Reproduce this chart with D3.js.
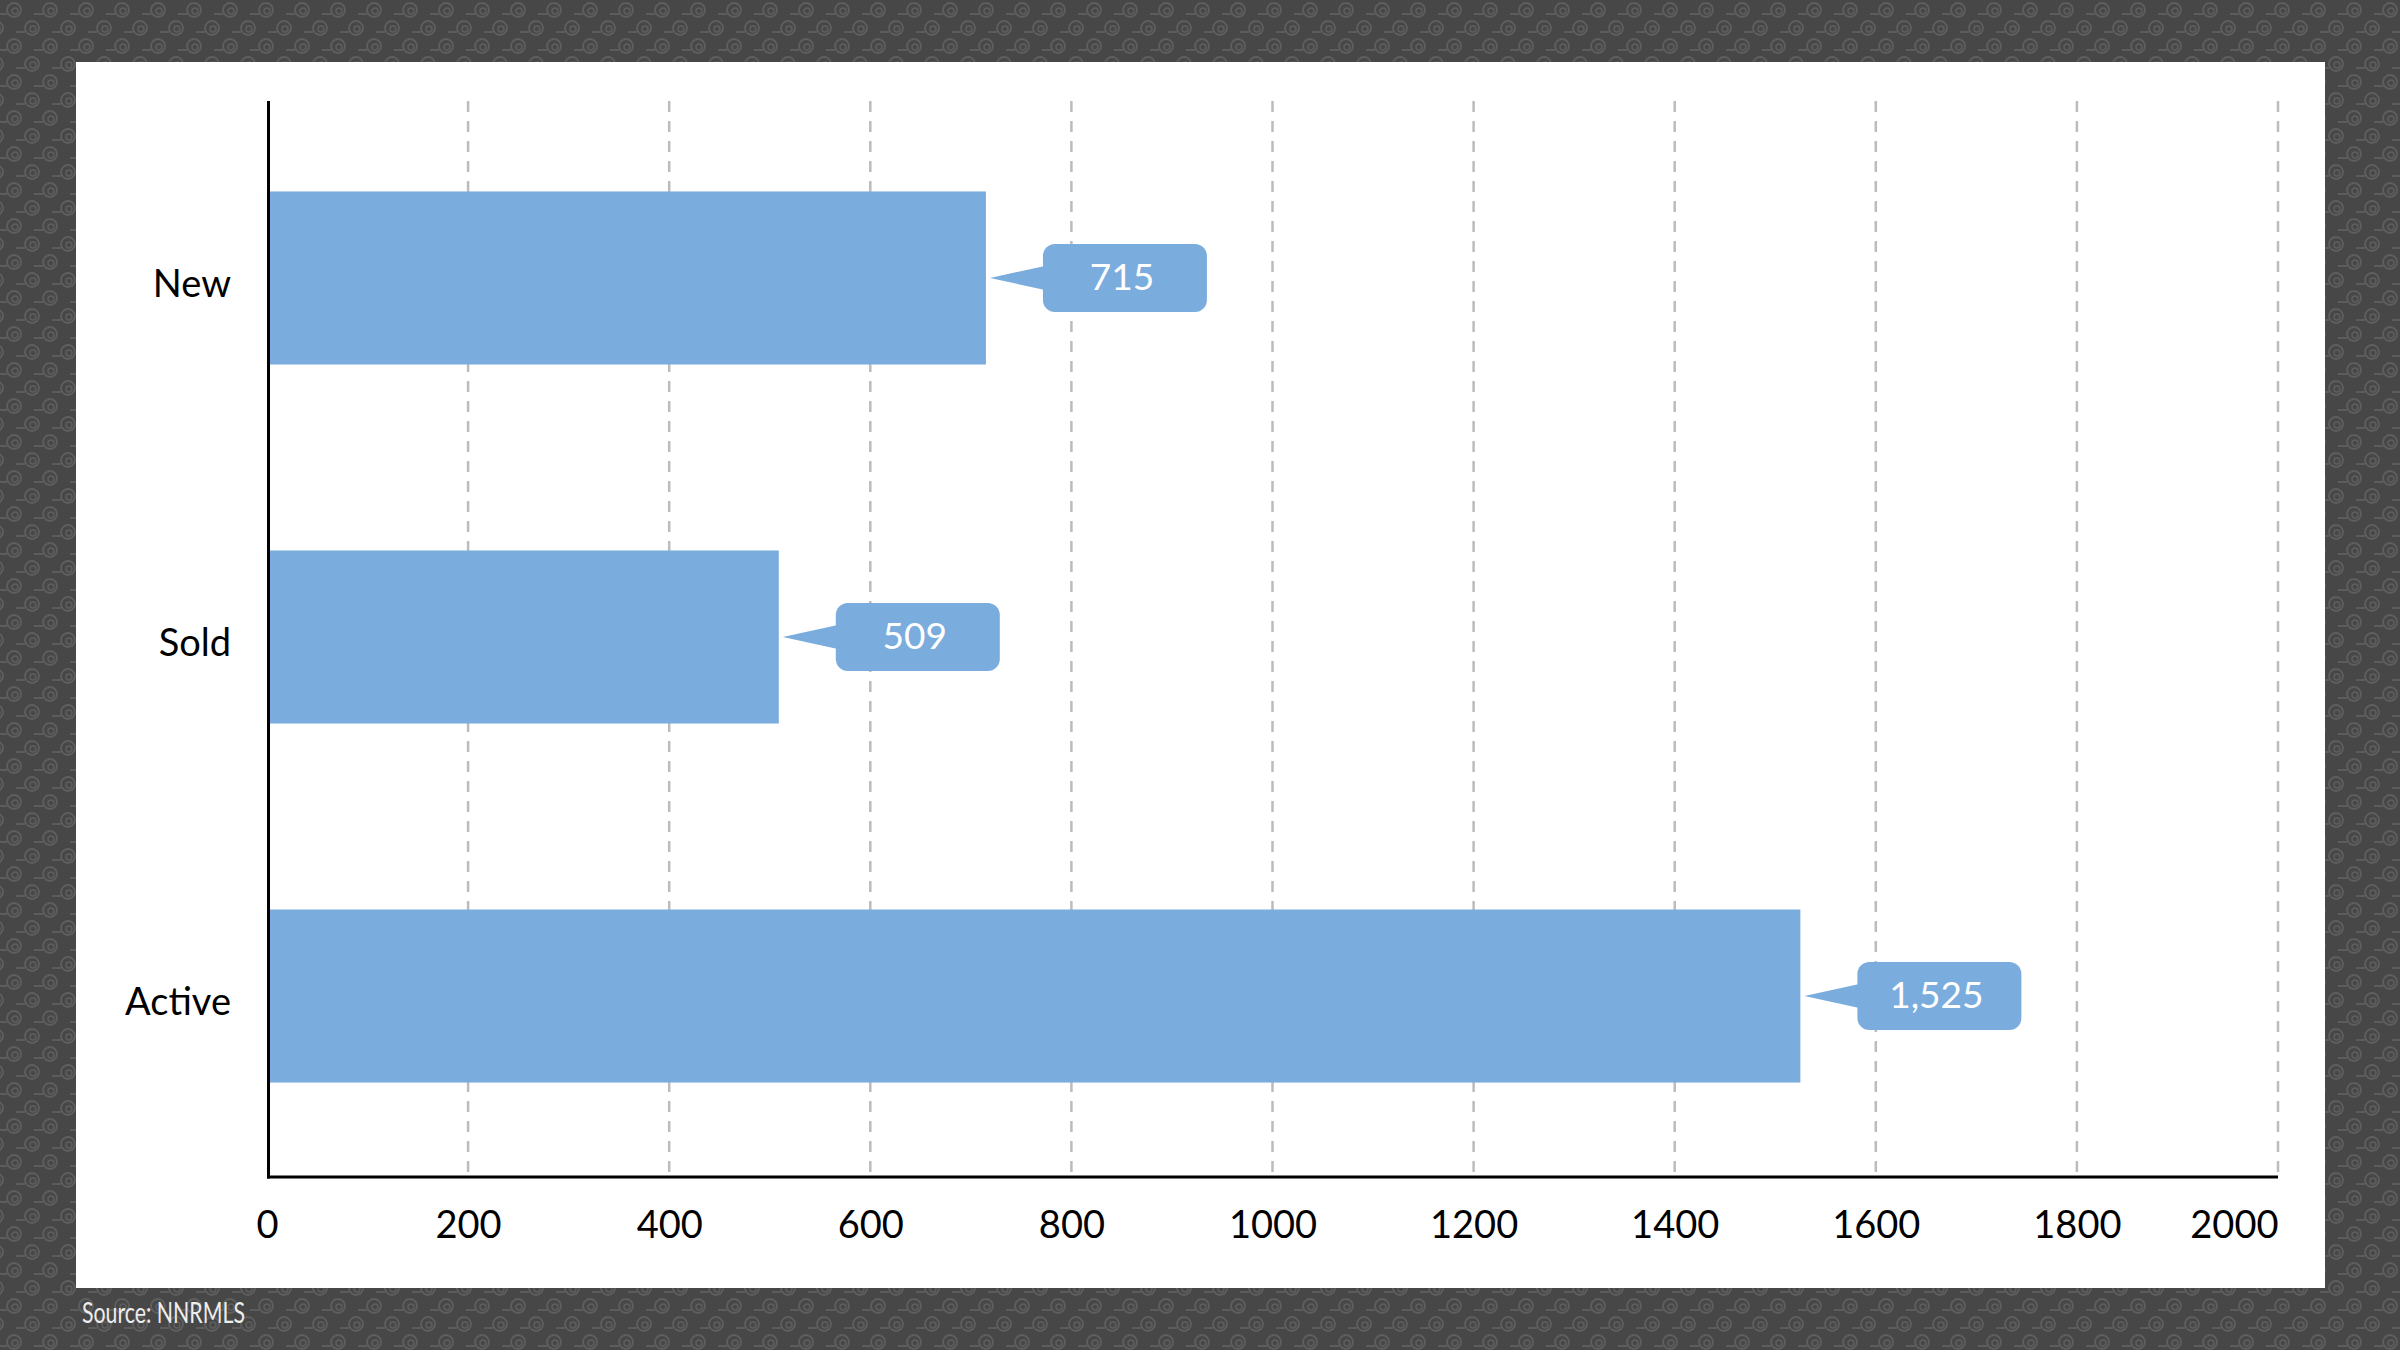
<!DOCTYPE html>
<html>
<head>
<meta charset="utf-8">
<script src="https://cdn.jsdelivr.net/npm/d3@7"></script>
<style>
  html, body { margin: 0; padding: 0; background: #474747; }
  svg { display: block; }
  text { font-family: Lato, 'Open Sans', sans-serif; }
</style>
</head>
<body>
<svg id="chart" width="2400" height="1350"></svg>
<script>
// data
const categories = ['New', 'Sold', 'Active']
const counts = [715, 509, 1525]
const xTicks = [0, 200, 400, 600, 800, 1000, 1200, 1400, 1600, 1800, 2000]
const sourceNote = 'Source: NNRMLS'

const barColor = '#7aaddd'
const svg = d3.select('#chart')

// patterned dark backdrop
const defs = svg.append('defs')
const pat = defs.append('pattern')
  .attr('id', 'swirl')
  .attr('width', 36)
  .attr('height', 36)
  .attr('patternUnits', 'userSpaceOnUse')
pat.append('rect').attr('width', 36).attr('height', 36).attr('fill', '#474747')
const swirl = function (cx, cy) {
  pat.append('circle').attr('cx', cx).attr('cy', cy).attr('r', 7)
    .attr('fill', 'none').attr('stroke', '#5e5e5e').attr('stroke-width', 1.8)
  pat.append('circle').attr('cx', cx + 1).attr('cy', cy + 1).attr('r', 3)
    .attr('fill', 'none').attr('stroke', '#5e5e5e').attr('stroke-width', 1.4)
  pat.append('line').attr('x1', cx - 16).attr('x2', cx - 7).attr('y1', cy + 4).attr('y2', cy + 4)
    .attr('stroke', '#5e5e5e').attr('stroke-width', 1.8)
}
swirl(14, 10)
swirl(32, 28)
swirl(-4, 28)
swirl(50, 10)
svg.append('rect').attr('width', 2400).attr('height', 1350).attr('fill', 'url(#swirl)')

// white panel
svg.append('rect')
  .attr('x', 76).attr('y', 62)
  .attr('width', 2249).attr('height', 1226)
  .attr('fill', '#ffffff')

const plot = { top: 101, bottom: 1177 }

const x = d3.scaleLinear().domain([0, 2000]).range([267, 2278])
const y = d3.scaleBand()
  .domain(categories)
  .range([99, 1175])
  .paddingInner(0.518)
  .paddingOuter(0.2575)

// dashed vertical gridlines
svg.append('g')
  .selectAll('line')
  .data(xTicks.filter(d => d > 0))
  .join('line')
  .attr('x1', d => x(d)).attr('x2', d => x(d))
  .attr('y1', plot.top).attr('y2', plot.bottom)
  .attr('stroke', '#bcbcbc')
  .attr('stroke-width', 2.5)
  .attr('stroke-dasharray', '11,9')

// bars
const rows = categories.map((c, i) => ({ cat: c, value: counts[i] }))
svg.append('g')
  .selectAll('rect')
  .data(rows)
  .join('rect')
  .attr('x', x(0))
  .attr('y', d => y(d.cat))
  .attr('width', d => x(d.value) - x(0))
  .attr('height', y.bandwidth())
  .attr('fill', barColor)

// axis lines
svg.append('line')
  .attr('x1', 268.5).attr('x2', 268.5)
  .attr('y1', plot.top).attr('y2', plot.bottom + 1.5)
  .attr('stroke', '#000').attr('stroke-width', 3)
svg.append('line')
  .attr('x1', 267).attr('x2', x(2000))
  .attr('y1', plot.bottom).attr('y2', plot.bottom)
  .attr('stroke', '#000').attr('stroke-width', 3)

// x tick labels
const xAxis = svg.append('g')
  .attr('transform', 'translate(0,' + plot.bottom + ')')
  .call(d3.axisBottom(x).tickValues(xTicks).tickSize(0).tickPadding(34).tickFormat(d3.format('d')))
xAxis.select('.domain').remove()
xAxis.selectAll('text')
  .attr('font-family', 'Lato, sans-serif')
  .attr('font-size', 38)
  .attr('fill', '#000')
  .attr('text-anchor', d => d === 2000 ? 'end' : 'middle')

// category labels
const yAxis = svg.append('g')
  .attr('transform', 'translate(268,0)')
  .call(d3.axisLeft(y).tickSize(0).tickPadding(37))
yAxis.select('.domain').remove()
yAxis.selectAll('text')
  .attr('font-family', 'Lato, sans-serif')
  .attr('font-size', 38)
  .attr('fill', '#000')
  .attr('dy', '0.5em')

// value callouts
const fmt = d3.format(',')
const boxW = 164
const boxH = 68
const gap = 57
const callouts = svg.append('g')
  .selectAll('g')
  .data(rows)
  .join('g')
  .attr('transform', d => 'translate(' + x(d.value) + ',' + (y(d.cat) + y.bandwidth() / 2) + ')')

callouts.append('path')
  .attr('d', 'M4,0 L' + (gap + 2) + ',-12 L' + (gap + 2) + ',12 Z')
  .attr('fill', barColor)
callouts.append('rect')
  .attr('x', gap).attr('y', -boxH / 2)
  .attr('width', boxW).attr('height', boxH)
  .attr('rx', 12)
  .attr('fill', barColor)
callouts.append('text')
  .attr('x', gap + boxW / 2 - 3)
  .attr('dy', '0.33em')
  .attr('text-anchor', 'middle')
  .attr('font-size', 37)
  .attr('fill', '#fff')
  .text(d => fmt(d.value))

// source note
svg.append('text')
  .attr('x', 82).attr('y', 1323)
  .attr('font-family', "'Liberation Sans Narrow', 'DejaVu Sans Condensed', sans-serif")
  .attr('font-size', 28)
  .attr('textLength', 163)
  .attr('lengthAdjust', 'spacingAndGlyphs')
  .attr('fill', '#ededed')
  .text(sourceNote)
</script>
</body>
</html>
